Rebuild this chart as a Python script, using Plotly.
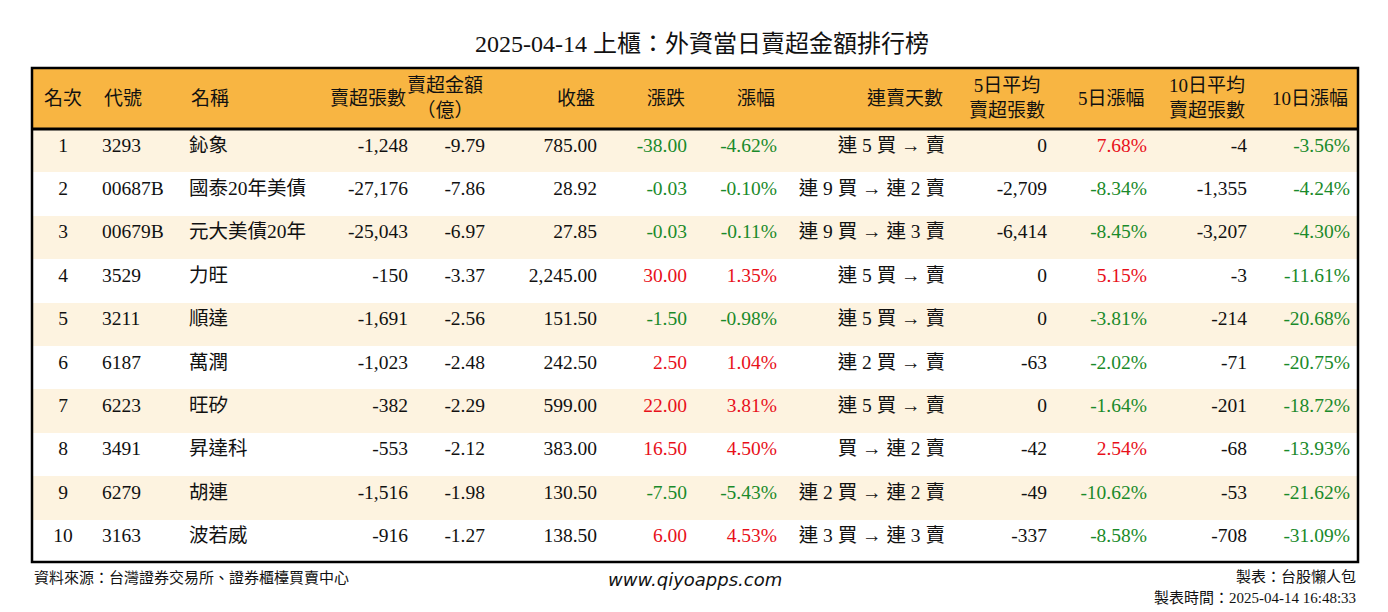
import plotly.graph_objects as go

rank = ["1","2","3","4","5","6","7","8","9","10"]
code = ["3293","00687B","00679B","3529","3211","6187","6223","3491","6279","3163"]
name = ["鈊象","國泰20年美債","元大美債20年","力旺","順達","萬潤","旺矽","昇達科","胡連","波若威"]
sell_lots = ["-1,248","-27,176","-25,043","-150","-1,691","-1,023","-382","-553","-1,516","-916"]
sell_amt = ["-9.79","-7.86","-6.97","-3.37","-2.56","-2.48","-2.29","-2.12","-1.98","-1.27"]
close = ["785.00","28.92","27.85","2,245.00","151.50","242.50","599.00","383.00","130.50","138.50"]
chg = [-38.00,-0.03,-0.03,30.00,-1.50,2.50,22.00,16.50,-7.50,6.00]
pct = [-4.62,-0.10,-0.11,1.35,-0.98,1.04,3.81,4.50,-5.43,4.53]
streak = ["連 5 買 → 賣","連 9 買 → 連 2 賣","連 9 買 → 連 3 賣","連 5 買 → 賣","連 5 買 → 賣",
          "連 2 買 → 賣","連 5 買 → 賣","買 → 連 2 賣","連 2 買 → 連 2 賣","連 3 買 → 連 3 賣"]
avg5 = ["0","-2,709","-6,414","0","0","-63","0","-42","-49","-337"]
pct5 = [7.68,-8.34,-8.45,5.15,-3.81,-2.02,-1.64,2.54,-10.62,-8.58]
avg10 = ["-4","-1,355","-3,207","-3","-214","-71","-201","-68","-53","-708"]
pct10 = [-3.56,-4.24,-4.30,-11.61,-20.68,-20.75,-18.72,-13.93,-21.62,-31.09]
headers = ["名次","代號","名稱","賣超張數","賣超金額<br>（億）","收盤","漲跌","漲幅","連賣天數",
           "5日平均<br>賣超張數","5日漲幅","10日平均<br>賣超張數","10日漲幅"]

RED, GREEN, BLK = "#e8101a", "#1a8a2a", "#111111"
def col(v): return [RED if x > 0 else GREEN if x < 0 else BLK for x in v]
def fmt(v, pc=False): return [f"{x:.2f}%" if pc else f"{x:.2f}" for x in v]

values = [rank, code, name, sell_lots, sell_amt, close, fmt(chg), fmt(pct, True), streak,
          avg5, fmt(pct5, True), avg10, fmt(pct10, True)]
colors = [[BLK]*10]*6 + [col(chg), col(pct), [BLK]*10, [BLK]*10, col(pct5), [BLK]*10, col(pct10)]
aligns = ["center","left","left","right","right","right","right","right","right","right","right","right","right"]
widths = [62, 87, 135, 100, 77, 112, 90, 90, 168, 102, 100, 100, 103]
fills = ["#fdf3e0" if i % 2 == 0 else "#ffffff" for i in range(10)]

FONT = "Liberation Serif, Noto Sans CJK TC"
TOT = sum(widths)
PH = 494.0
hy = 1 - 30.5 / PH
ann = []
x0 = 0
for h, w, a in zip(headers, widths, aligns):
    if a == "center":
        x, xa = (x0 + w / 2) / TOT, "center"
    elif a == "left":
        x, xa = (x0 + 8) / TOT, "left"
    else:
        x, xa = (x0 + w - 8) / TOT, "right"
    ann.append(dict(text=h, xref="paper", yref="paper", x=x, y=hy, xanchor=xa, yanchor="middle",
                    align="center", showarrow=False, font=dict(family=FONT, size=19, color=BLK)))
    x0 += w

fig = go.Figure(go.Table(
    columnwidth=widths,
    header=dict(values=[""] * 13, fill_color="#f8b542", height=61,
                line=dict(width=0, color="#f8b542"), font=dict(family=FONT, size=19)),
    cells=dict(values=values, fill_color=[fills]*13, align=aligns, height=43.4,
               line=dict(width=0, color="white"),
               font=dict(family=FONT, size=19.5, color=colors)),
))
fig.update_layout(
    width=1388, height=612, margin=dict(l=24, r=38, t=60, b=58),
    paper_bgcolor="white",
    title=dict(text="2025-04-14 上櫃：外資當日賣超金額排行榜", x=0.5, y=0.955, xanchor="center",
               font=dict(family=FONT, size=24, color=BLK)),
    shapes=[dict(type="rect", xref="paper", yref="paper", x0=0, x1=1, y0=0, y1=1,
                 line=dict(color="black", width=2.5)),
            dict(type="line", xref="paper", yref="paper", x0=0, x1=1, y0=1 - 61 / PH, y1=1 - 61 / PH,
                 line=dict(color="black", width=3))],
    annotations=ann + [
        dict(text="資料來源：台灣證券交易所、證券櫃檯買賣中心", xref="paper", yref="paper", x=0, y=-0.01,
             xanchor="left", yanchor="top", showarrow=False, font=dict(family=FONT, size=15, color=BLK)),
        dict(text="<i>www.qiyoapps.com</i>", xref="paper", yref="paper", x=0.5, y=-0.01,
             xanchor="center", yanchor="top", showarrow=False, font=dict(family="DejaVu Sans", size=18, color=BLK)),
        dict(text="製表：台股懶人包", xref="paper", yref="paper", x=1, y=-0.01,
             xanchor="right", yanchor="top", showarrow=False, font=dict(family=FONT, size=15, color=BLK)),
        dict(text="製表時間：2025-04-14 16:48:33", xref="paper", yref="paper", x=1, y=-0.052,
             xanchor="right", yanchor="top", showarrow=False, font=dict(family=FONT, size=15, color=BLK)),
    ],
)
fig.write_html("out.html")
